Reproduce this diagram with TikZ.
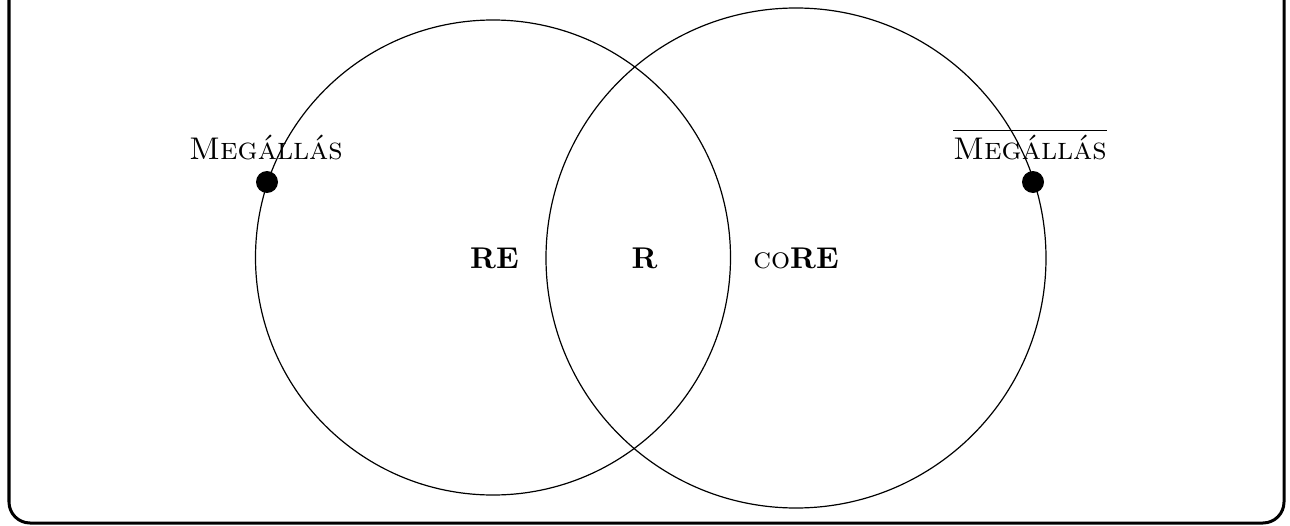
\documentclass[tikz,border=0pt]{standalone}
\usetikzlibrary{positioning}

\begin{document}
\begin{tikzpicture}[x=0.3333pt, y=-0.3333pt,
    haltlabel/.style={anchor=base, font=\fontsize{10.45pt}{12.5pt}\selectfont},
    setlabel/.style={anchor=base}]
    \useasboundingbox (0,0) rectangle (1290,526);

    % open frame with rounded bottom corners
    \draw[line width=1pt, rounded corners=7pt] (9,0) -- (9,523) -- (1284,523) -- (1284,0);

    \coordinate (RE)   at (493,257.5);
    \coordinate (coRE) at (796,258);

    \draw (RE)   circle (237.5);
    \draw (coRE) circle (250);

    \coordinate (halt)    at (267,182);
    \coordinate (nothalt) at (1033,182);

    \fill (halt)    circle (11);
    \fill (nothalt) circle (11);

    \node[haltlabel] (haltname)    at (266,159)  {\textsc{Megállás}};
    \node[haltlabel] (nothaltname) at (1030,159) {$\overline{\mbox{\textsc{Megállás}}}$};

    \node[setlabel] (relbl)   at (494.5,268) {\textbf{RE}};
    \node[setlabel] (rlbl)    at (644.5,268) {\textbf{R}};
    \node[setlabel] (corelbl) at (796,268)   {\textsc{co}\textbf{RE}};
\end{tikzpicture}
\end{document}
